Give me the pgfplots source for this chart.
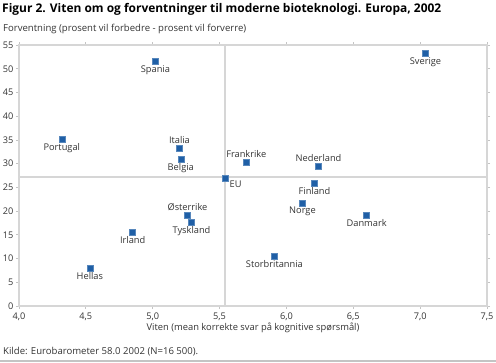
\documentclass[border=0pt]{standalone}
\usepackage{pgfplots}
\pgfplotsset{compat=1.18}
\usepackage{fontspec}
\setmainfont{Open Sans}
\definecolor{mk}{HTML}{1F5FA6}
\definecolor{fr}{HTML}{D6D6D6}
\definecolor{ax}{HTML}{C4C4C4}
\definecolor{tx}{HTML}{333333}

\pgfplotstableread{
x y name
5.02 51.6 Spania
7.04 53.3 Sverige
4.32 35.2 Portugal
5.21 31.0 Belgia
6.21 25.9 Finland
5.29 17.7 Tyskland
4.85 15.6 Irland
6.12 21.7 Norge
6.60 19.2 Danmark
5.91 10.5 Storbritannia
4.53 8.0 Hellas
}\below
\pgfplotstableread{
x y name
5.20 33.3 Italia
5.70 30.3 Frankrike
6.24 29.5 Nederland
5.26 19.2 Østerrike
}\above
\pgfplotstableread{
x y name
5.54 27.0 EU
}\eu

\begin{document}
\begin{tikzpicture}
\useasboundingbox (-19bp,-57bp) rectangle (477bp,306bp);
\begin{axis}[at={(0,0)}, anchor=south west, scale only axis,
  width=468bp, height=261bp,
  xmin=4, xmax=7.5, ymin=0, ymax=55,
  xtick={4,4.5,5,5.5,6,6.5,7,7.5}, ytick={0,5,...,55},
  x tick label style={/pgf/number format/.cd, use comma, fixed, fixed zerofill, precision=1},
  /pgf/number format/assume math mode=true,
  ticklabel style={font=\fontsize{9.2}{11}\selectfont, text=tx},
  yticklabel style={xshift=1bp},
  tick align=outside, major tick length=3bp,
  tick style={ax, line width=0.8bp},
  axis line style={fr, line width=1.5bp},
  xlabel={Viten (mean korrekte svar på kognitive spørsmål)},
  xlabel style={font=\fontsize{9.4}{11}\selectfont, text=tx, yshift=4bp},
  clip=false,
  nodes near coords={\pgfplotspointmeta},
  point meta=explicit symbolic,
  every node near coord/.append style={font=\fontsize{9.3}{11}\selectfont, text=tx, inner sep=1.5bp},
]
\addplot[fr, line width=1.5bp, forget plot, nodes near coords={}] coordinates {(5.54,0) (5.54,55)};
\addplot[fr, line width=1.5bp, forget plot, nodes near coords={}] coordinates {(4,27.2) (7.5,27.2)};
\addplot[only marks, mark=square*, mark size=3bp, mark options={fill=mk, draw=mk!75!white, line width=0.4bp},
  every node near coord/.append style={anchor=north, yshift=-2.5bp}]
  table[x=x, y=y, meta=name] {\below};
\addplot[only marks, mark=square*, mark size=3bp, mark options={fill=mk, draw=mk!75!white, line width=0.4bp},
  every node near coord/.append style={anchor=south, yshift=2.5bp}]
  table[x=x, y=y, meta=name] {\above};
\addplot[only marks, mark=square*, mark size=3bp, mark options={fill=mk, draw=mk!75!white, line width=0.4bp},
  every node near coord/.append style={anchor=north west, xshift=3bp, yshift=-1bp}]
  table[x=x, y=y, meta=name] {\eu};
\end{axis}
\node[anchor=west, inner sep=0pt, font=\bfseries\fontsize{12}{14}\selectfont, text=black] at (-17bp,297bp)
  {Figur 2. Viten om og forventninger til moderne bioteknologi. Europa, 2002};
\node[anchor=west, inner sep=0pt, font=\fontsize{9.6}{11}\selectfont, text=tx] at (-16bp,277bp)
  {Forventning (prosent vil forbedre - prosent vil forverre)};
\node[anchor=west, inner sep=0pt, font=\fontsize{9.6}{11}\selectfont, text=tx] at (-16bp,-46bp)
  {Kilde: Eurobarometer 58.0 2002 (N=16 500).};
\draw[ax, line width=2.5bp] (-19bp,-55bp) -- (477bp,-55bp);
\end{tikzpicture}
\end{document}
